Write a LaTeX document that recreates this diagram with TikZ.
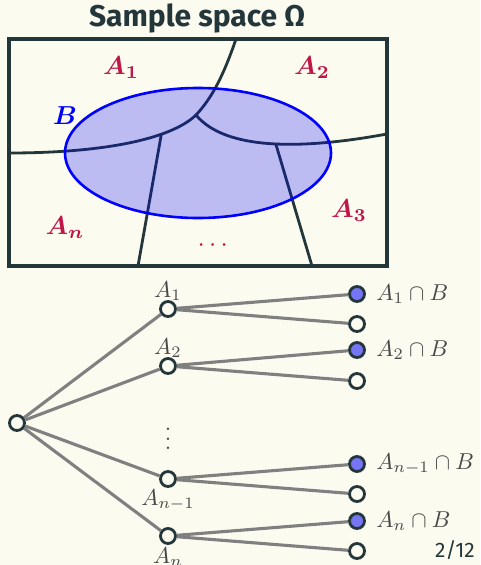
\documentclass[tikz,border=0pt]{standalone}
\usepackage{amsmath}
\usepackage{fontspec}
\setsansfont{Fira Sans}
\definecolor{bgc}{RGB}{252,251,240}
\definecolor{dteal}{RGB}{35,55,59}
\definecolor{crim}{RGB}{192,22,72}
\definecolor{edgec}{RGB}{128,128,128}
\definecolor{leafc}{RGB}{118,118,245}
\definecolor{labc}{RGB}{72,72,72}
\tikzset{
  boxline/.style={draw=dteal,line width=3.2pt},
  part/.style={draw=dteal,line width=2.8pt},
  reglab/.style={text=crim,scale=2.6,inner sep=0pt},
  tnode/.style={circle,draw=dteal,line width=2.8pt,fill=bgc,minimum size=15pt,inner sep=0pt},
  bnode/.style={tnode,fill=leafc},
  tedge/.style={draw=edgec,line width=3.1pt},
  tlab/.style={text=labc,scale=2.3,inner sep=0pt},
}
\begin{document}
\begin{tikzpicture}[x=1pt,y=-1pt]
\fill[bgc] (0,0) rectangle (480,565);
\useasboundingbox (0,0) rectangle (480,565);
% title
\node[text=dteal,font=\sffamily\bfseries\fontsize{30}{33}\selectfont,inner sep=0pt] (title) at (197,18) {Sample space Ω};
% partition lines
\coordinate (p0) at (236,39);
\coordinate (jn) at (196,115);
\coordinate (pl) at (9,153);
\coordinate (pr) at (387,134);
\coordinate (b1) at (138,266);
\coordinate (b2) at (312,266);
\draw[part] (p0) .. controls (222,80) and (210,100) .. (jn);
\draw[part] (jn) .. controls (170,140) and (100,153) .. (pl) coordinate[pos=0.3] (j1);
\draw[part] (jn) .. controls (225,150) and (300,150) .. (pr) coordinate[pos=0.53] (j2);
\draw[part] (j1) -- (b1);
\draw[part] (j2) -- (b2);
% box
\draw[boxline] (9,39) rectangle (387,266);
% ellipse B
\coordinate (ec) at (198,153);
\draw[draw=blue,line width=2.6pt,fill=blue,fill opacity=0.25] (ec) ellipse [x radius=133, y radius=65];
% region labels
\node[reglab] (la1) at (121,68) {$\boldsymbol{A_1}$};
\node[reglab] (la2) at (312,68) {$\boldsymbol{A_2}$};
\node[reglab] (la3) at (349,211) {$\boldsymbol{A_3}$};
\node[reglab] (lan) at (65,228) {$\boldsymbol{A_n}$};
\node[reglab,text=blue] (lb) at (65,116) {$\boldsymbol{B}$};
\node[reglab] (ldots) at (215,246) {$\cdots$};
% tree
\node[tnode] (r) at (17,423) {};
\node[tnode] (n1) at (168,309) {};
\node[tnode] (n2) at (168,366) {};
\node[tnode] (n3) at (168,479) {};
\node[tnode] (n4) at (168,536) {};
\node[bnode] (l1a) at (357,294) {};
\node[tnode] (l1b) at (357,324) {};
\node[bnode] (l2a) at (357,350) {};
\node[tnode] (l2b) at (357,381) {};
\node[bnode] (l3a) at (357,464) {};
\node[tnode] (l3b) at (357,494) {};
\node[bnode] (l4a) at (357,521) {};
\node[tnode] (l4b) at (357,551) {};
\foreach \n in {n1,n2,n3,n4} \draw[tedge] (r) -- (\n);
\draw[tedge] (n1) -- (l1a); \draw[tedge] (n1) -- (l1b);
\draw[tedge] (n2) -- (l2a); \draw[tedge] (n2) -- (l2b);
\draw[tedge] (n3) -- (l3a); \draw[tedge] (n3) -- (l3b);
\draw[tedge] (n4) -- (l4a); \draw[tedge] (n4) -- (l4b);
% tree labels
\node[tlab] (t1) at (168,291) {$A_1$};
\node[tlab] (t2) at (168,348) {$A_2$};
\node[tlab] (t3) at (168,500) {$A_{n-1}$};
\node[tlab] (t4) at (168,557) {$A_n$};
\node[tlab] (tv) at (168,432) {$\vdots$};
\node[tlab,anchor=west] (s1) at (376,294) {$A_1\cap B$};
\node[tlab,anchor=west] (s2) at (376,350) {$A_2\cap B$};
\node[tlab,anchor=west] (s3) at (376,464) {$A_{n-1}\cap B$};
\node[tlab,anchor=west] (s4) at (376,521) {$A_n\cap B$};
% page number
\node[text=dteal,font=\sffamily\fontsize{21}{24}\selectfont,inner sep=0pt] (pg) at (455,550) {2/12};
\end{tikzpicture}
\end{document}
